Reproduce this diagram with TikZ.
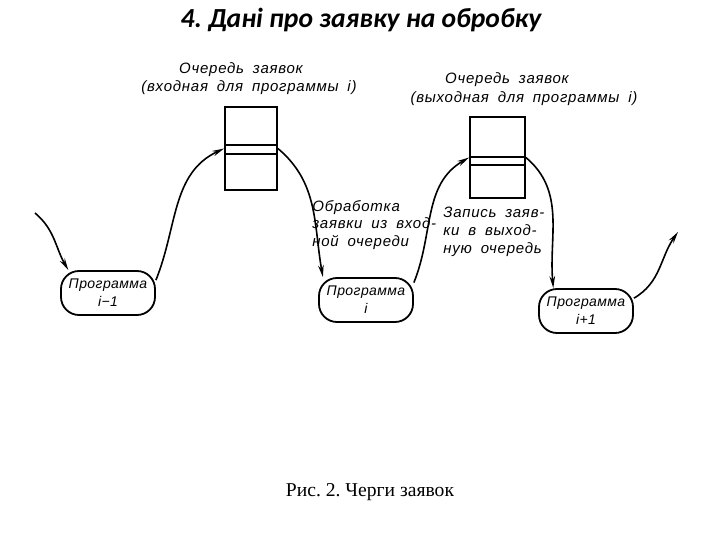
\documentclass[tikz,border=0pt]{standalone}
\usepackage{fontspec}
\setmainfont{Liberation Serif}
\newfontfamily\titlefont{Carlito}
\newfontfamily\handfont[LetterSpace=5, WordSpace=1.8]{Liberation Sans}
\newfontfamily\progfont[LetterSpace=3]{Liberation Sans}
\usetikzlibrary{arrows.meta}

\tikzset{
    prog/.style={draw, line width=0.9pt, rounded corners=9pt, minimum width=47pt,
        minimum height=22pt, inner sep=0pt, align=center,
        font=\progfont\itshape\fontsize{7}{9}\selectfont},
    queuebox/.style={draw, line width=0.9pt, inner sep=0pt},
    hand/.style={inner sep=0pt, align=left, font=\handfont\itshape\fontsize{7.5}{8.8}\selectfont},
    flow/.style={->, line width=0.8pt},
    >={Stealth[length=6pt,width=2.8pt]}
}

\begin{document}
\frenchspacing
\begin{tikzpicture}[x=0.5pt, y=0.5pt]
    % Fix the page size
    \useasboundingbox (0,0) rectangle (720,-540);

    % Title and caption
    \node[font=\titlefont\bfseries\itshape\fontsize{13.8}{16}\selectfont] (title) at (361,-20) {4. Дані про заявку на обробку};
    \node[font=\fontsize{9.8}{12}\selectfont] (caption) at (370,-492) {Рис. 2. Черги заявок};

    % Define the programs
    \node[prog] (p1) at (108,-293) {Программа\\i−1};
    \node[prog] (p2) at (366,-300) {Программа\\i};
    \node[prog] (p3) at (586,-311) {Программа\\i+1};

    % Define the queues
    \node[queuebox, minimum width=26pt, minimum height=41.5pt] (q1) at (251,-148.5) {};
    \node[queuebox, minimum width=27.5pt, minimum height=40.5pt] (q2) at (497.5,-157.5) {};
    \draw[line width=0.9pt] (q1.west |- 0,-145) -- (q1.east |- 0,-145);
    \draw[line width=0.9pt] (q1.west |- 0,-154) -- (q1.east |- 0,-154);
    \draw[line width=0.9pt] (q2.west |- 0,-157) -- (q2.east |- 0,-157);
    \draw[line width=0.9pt] (q2.west |- 0,-165) -- (q2.east |- 0,-165);

    % Free ends of the chain
    \coordinate (src) at (35,-213);
    \coordinate (sink) at (678,-232);

    % Draw the flow of requests
    \draw[flow] (src) to[out=-40, in=120] (p1.150);
    \draw[flow] (p1.15) to[out=68, in=205] (q1.west);
    \draw[flow] (q1.east) to[out=-40, in=100] (p2.152);
    \draw[flow] (p2.20) to[out=68, in=210] (q2.west);
    \draw[flow] (q2.east) to[out=-40, in=95] (p3.145);
    \draw[flow] (p3.15) to[out=30, in=235] (sink);

    % Labels of the queues
    \node[hand] (q1lab) at (241,-70) {Очередь~заявок};
    \node[hand] (q1sub) at (249,-88) {(входная~для~программы~i)};
    \node[hand] (q2lab) at (507,-80) {Очередь~заявок};
    \node[hand] (q2sub) at (524,-99) {(выходная~для~программы~i)};

    % Labels of the actions
    \node[hand, anchor=north west] (take) at (312,-200) {Обработка\\заявки из вход-\\ной очереди};
    \node[hand, anchor=north west] (put) at (443,-207) {Запись заяв-\\ки в выход-\\ную очередь};
\end{tikzpicture}
\end{document}
